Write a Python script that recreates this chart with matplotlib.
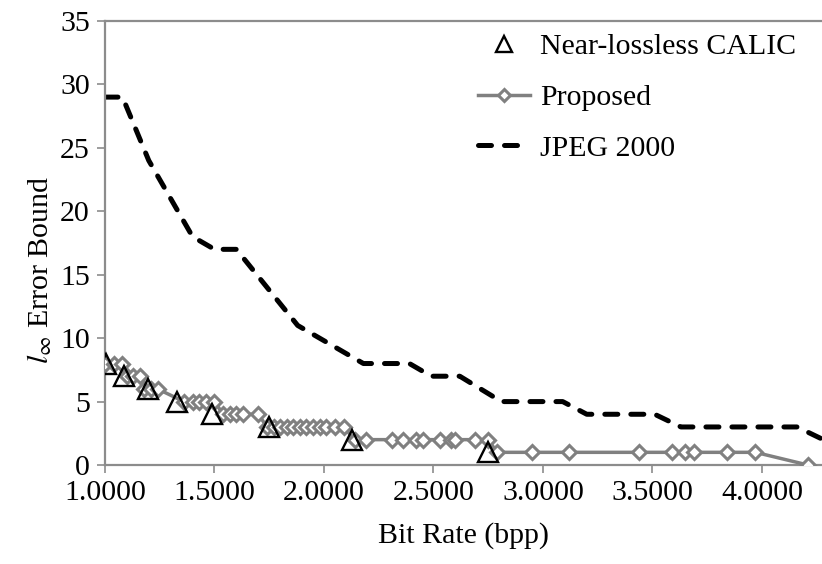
import matplotlib.pyplot as plt
from matplotlib.ticker import MultipleLocator, FormatStrFormatter

plt.rcParams['font.family'] = ['Liberation Serif', 'DejaVu Serif']
plt.rcParams['mathtext.fontset'] = 'stix'

# Near-lossless CALIC operating points
calic_rate = [1.005, 1.087, 1.196, 1.33, 1.49, 1.75, 2.13, 2.75]
calic_err = [8, 7, 6, 5, 4, 3, 2, 1]

# Proposed coder
prop_rate = [1.00, 1.04, 1.08, 1.10, 1.13, 1.16, 1.18, 1.21, 1.24,
             1.36, 1.40, 1.43, 1.46, 1.50, 1.54, 1.57, 1.60, 1.63, 1.70,
             1.74, 1.77, 1.80, 1.83, 1.86, 1.89, 1.92, 1.95, 1.98, 2.01, 2.05, 2.09,
             2.14, 2.19, 2.31, 2.36, 2.42, 2.45, 2.53, 2.58, 2.60, 2.69, 2.75,
             2.79, 2.95, 3.12, 3.44, 3.59, 3.65, 3.69, 3.84, 3.97,
             4.21]
prop_err = [8, 8, 8, 7, 7, 7, 6, 6, 6,
            5, 5, 5, 5, 5, 4, 4, 4, 4, 4,
            3, 3, 3, 3, 3, 3, 3, 3, 3, 3, 3, 3,
            2, 2, 2, 2, 2, 2, 2, 2, 2, 2, 2,
            1, 1, 1, 1, 1, 1, 1, 1, 1,
            0]

# JPEG 2000
jp2_rate = [1.0, 1.08, 1.2, 1.4, 1.5, 1.6, 1.88, 2.18, 2.39, 2.49, 2.62,
            2.81, 3.09, 3.20, 3.51, 3.63, 4.16, 4.28]
jp2_err = [29, 29, 24, 18, 17, 17, 11, 8, 8, 7, 7, 5, 5, 4, 4, 3, 3, 2]

fig = plt.figure(figsize=(8.22, 5.64), dpi=100)
ax = fig.add_axes([0.1277, 0.1755, 0.8723, 0.7873])

grey = '#808080'
axis_grey = '#8c8c8c'

ax.plot(calic_rate, calic_err, linestyle='none', marker='^', ms=14.5,
        mfc='none', mec='black', mew=1.7, label='Near-lossless CALIC', zorder=4)
ax.plot(prop_rate, prop_err, color=grey, lw=2.5, marker='D', ms=7.5,
        mfc='white', mec=grey, mew=2.2, label='Proposed', zorder=3)
jp, = ax.plot(jp2_rate, jp2_err, color='black', lw=3.6, label='JPEG 2000',
              dash_capstyle='round', solid_capstyle='round', zorder=2)
jp.set_dashes((2.6, 2.6))

ax.set_xlim(1.0, 4.274)
ax.set_ylim(0, 35)
ax.xaxis.set_major_locator(MultipleLocator(0.5))
ax.xaxis.set_major_formatter(FormatStrFormatter('%.4f'))
ax.yaxis.set_major_locator(MultipleLocator(5))

for side in ['left', 'bottom', 'top']:
    ax.spines[side].set_color(axis_grey)
    ax.spines[side].set_linewidth(1.6)
ax.spines['right'].set_visible(False)

ax.tick_params(axis='both', direction='out', length=6, width=1.2,
               color=axis_grey, labelsize=21.5, labelcolor='black', pad=5)

ax.set_xlabel('Bit Rate (bpp)', fontsize=21.5, labelpad=11)
ax.set_ylabel(r'$l_{\infty}$ Error Bound', fontsize=21.5)
ax.yaxis.set_label_coords(-0.071, 0.44)

leg = ax.legend(loc='upper left', bbox_to_anchor=(0.581, 0.941),
                bbox_transform=fig.transFigure, frameon=False, fontsize=21.5,
                handlelength=1.75, handletextpad=0.35, labelspacing=0.8,
                borderpad=0, borderaxespad=0, markerscale=0.75)

fig.savefig('out.png', dpi=100)
